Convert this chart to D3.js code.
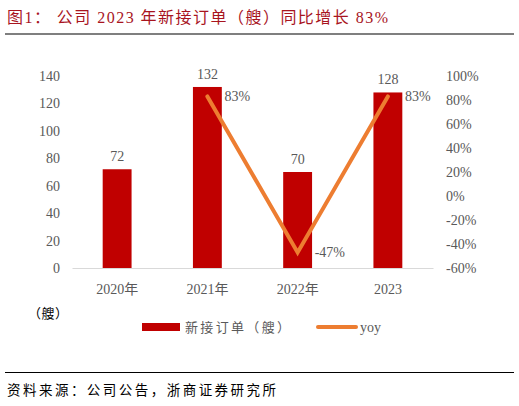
<!DOCTYPE html>
<html>
<head>
<meta charset="utf-8">
<script src="https://cdn.jsdelivr.net/npm/d3@7"></script>
<style>
  body { margin: 0; background: #fff; }
  text { font-family: "Liberation Serif", "Noto Sans CJK SC", serif; }
</style>
</head>
<body>
<svg id="chart" width="519" height="406"></svg>
<script>
// data
var years = ['2020年', '2021年', '2022年', '2023'];
var orders = [72, 132, 70, 128];
var yoy = [null, 83, -47, 83];
var leftTicks = [0, 20, 40, 60, 80, 100, 120, 140];
var rightTicks = [-60, -40, -20, 0, 20, 40, 60, 80, 100];

var svg = d3.select('#chart');
var red = '#c00000', orange = '#ed7d31', grey = '#595959';

// title + rules
svg.append('text').attr('x', 7).attr('y', 23)
  .attr('fill', '#a8141e').style('font-size', '16px')
  .attr('textLength', 381).attr('lengthAdjust', 'spacing')
  .text('图1：  公司 2023 年新接订单（艘）同比增长 83%');
svg.append('line').attr('x1', 5).attr('x2', 514).attr('y1', 34).attr('y2', 34)
  .attr('stroke', '#7f7f7f').attr('stroke-width', 2);

var x = d3.scaleBand().domain(years).range([72, 433]).paddingInner(0.68).paddingOuter(0.34);
var y = d3.scaleLinear().domain([0, 140]).range([268, 76]);
var y2 = d3.scaleLinear().domain([-60, 100]).range([268, 76]);

// left axis
var gl = svg.append('g').attr('transform', 'translate(60,0)')
  .call(d3.axisLeft(y).tickValues(leftTicks).tickSize(0).tickPadding(0));
gl.select('.domain').remove();
gl.selectAll('text').attr('fill', grey).style('font-size', '14px').attr('font-family', null);

// right axis
var gr = svg.append('g').attr('transform', 'translate(446,0)')
  .call(d3.axisRight(y2).tickValues(rightTicks).tickSize(0).tickPadding(0).tickFormat(function (d) { return d + '%'; }));
gr.select('.domain').remove();
gr.selectAll('text').attr('fill', grey).style('font-size', '14px').attr('font-family', null);

// bottom axis
var gb = svg.append('g').attr('transform', 'translate(0,268)')
  .call(d3.axisBottom(x).tickSize(0).tickPadding(16));
gb.select('.domain').attr('stroke', '#d9d9d9');
gb.selectAll('text').attr('fill', grey).style('font-size', '14px').attr('font-family', null);

// bars
svg.selectAll('rect.bar').data(orders).enter().append('rect')
  .attr('class', 'bar')
  .attr('x', function (d, i) { return x(years[i]); })
  .attr('y', function (d) { return y(d); })
  .attr('width', x.bandwidth())
  .attr('height', function (d) { return y(0) - y(d); })
  .attr('fill', red);

svg.selectAll('text.blab').data(orders).enter().append('text')
  .attr('class', 'blab')
  .attr('x', function (d, i) { return x(years[i]) + x.bandwidth() / 2; })
  .attr('y', function (d) { return y(d) - 8; })
  .attr('text-anchor', 'middle').attr('fill', grey).style('font-size', '14px')
  .text(function (d) { return d; });

// yoy line
var pts = yoy.map(function (v, i) { return { v: v, c: years[i] }; }).filter(function (d) { return d.v !== null; });
var line = d3.line()
  .x(function (d) { return x(d.c) + x.bandwidth() / 2; })
  .y(function (d) { return y2(d.v); });
svg.append('path').datum(pts).attr('d', line)
  .attr('fill', 'none').attr('stroke', orange).attr('stroke-width', 4).attr('stroke-linecap', 'round');

svg.selectAll('text.llab').data(pts).enter().append('text')
  .attr('class', 'llab')
  .attr('x', function (d) { return x(d.c) + x.bandwidth() / 2 + 17; })
  .attr('y', function (d) { return y2(d.v) + 5; })
  .attr('fill', grey).style('font-size', '14px')
  .text(function (d) { return d.v + '%'; });

// unit
svg.append('text').attr('x', 28).attr('y', 318).attr('fill', '#000').style('font-size', '13px')
  .attr('textLength', 40).attr('lengthAdjust', 'spacing').text('（艘）');

// legend
svg.append('rect').attr('x', 142).attr('y', 323).attr('width', 38).attr('height', 8).attr('fill', red);
svg.append('text').attr('x', 185).attr('y', 332).attr('fill', grey).style('font-size', '13px')
  .attr('textLength', 105).attr('lengthAdjust', 'spacing').text('新接订单（艘）');
svg.append('line').attr('x1', 318).attr('x2', 356).attr('y1', 327).attr('y2', 327)
  .attr('stroke', orange).attr('stroke-width', 4).attr('stroke-linecap', 'round');
svg.append('text').attr('x', 360).attr('y', 332).attr('fill', grey).style('font-size', '14px').text('yoy');

// source
svg.append('line').attr('x1', 5).attr('x2', 514).attr('y1', 372.5).attr('y2', 372.5)
  .attr('stroke', '#000').attr('stroke-width', 1);
svg.append('text').attr('x', 7).attr('y', 395).attr('fill', '#000').style('font-size', '13.5px')
  .attr('textLength', 269).attr('lengthAdjust', 'spacing')
  .text('资料来源：公司公告，浙商证券研究所');
</script>
</body>
</html>
